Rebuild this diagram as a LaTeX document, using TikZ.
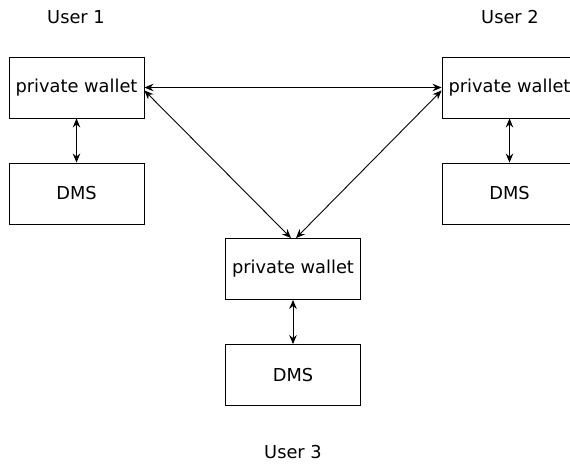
\documentclass[tikz,border=0pt]{standalone}
\usepackage{fontspec}
\setmainfont{DejaVu Sans}
\usepackage{tikz}
\usetikzlibrary{arrows.meta,positioning}

\begin{document}
\begin{tikzpicture}[
    x=1pt, y=-1pt,
    box/.style={draw, line width=0.9pt, minimum width=135pt, minimum height=61pt, inner sep=0pt, font=\fontsize{17.8}{21}\selectfont},
    user/.style={font=\fontsize{17.8}{21}\selectfont},
    link/.style={line width=0.9pt, {Stealth[length=9pt,width=7.5pt,inset=3pt]}-{Stealth[length=9pt,width=7.5pt,inset=3pt]}}
]
    \clip (0,0) rectangle (570,464);
    \useasboundingbox (0,0) rectangle (570,464);

    \node[box] (w1) at (76.5, 87.5) {private wallet};
    \node[box] (d1) at (76.5, 193.5) {DMS};
    \node[box] (w2) at (509.5, 87.5) {private wallet};
    \node[box] (d2) at (509.5, 193.5) {DMS};
    \node[box] (w3) at (293, 269) {private wallet};
    \node[box] (d3) at (293, 375) {DMS};

    \node[user] (u1) at (76, 17) {User 1};
    \node[user] (u2) at (510, 17) {User 2};
    \node[user] (u3) at (293, 452) {User 3};

    \draw[link] (w1) -- (d1);
    \draw[link] (w2) -- (d2);
    \draw[link] (w3) -- (d3);

    \draw[link] (w1.east) -- (w2.west);
    \draw[link] ([yshift=-3pt]w1.east) -- ([xshift=-2pt]w3.north);
    \draw[link] ([yshift=-3pt]w2.west) -- ([xshift=3pt]w3.north);
\end{tikzpicture}
\end{document}
